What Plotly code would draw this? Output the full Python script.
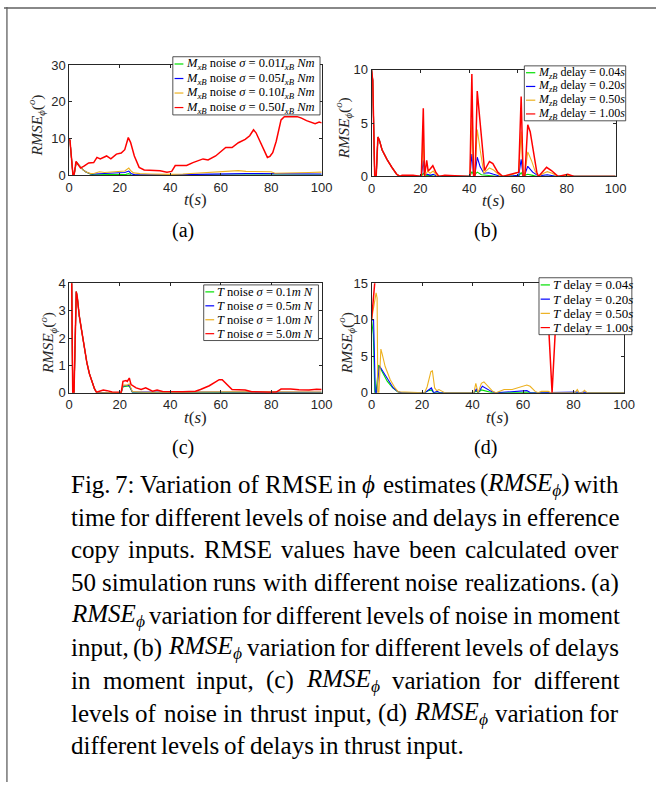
import re
import plotly.graph_objects as go

W, H = 667, 790

GREEN, BLUE, ORANGE, RED = "#00e000", "#0000ff", "#edb120", "#ff0000"

# ---------------------------------------------------------------- data
# (t [s], RMSE_phi [deg]) samples for each curve

# (a) noise on the moment input
a_green = [(0, 10), (0.3, 9.5), (1.5, 0), (2, 0.4), (2.8, 3.6), (3.5, 3.0), (4.5, 2.2), (5.5, 1.5),
           (6.5, 1.0), (7.5, 0.6), (8.5, 0.3), (10, 0.15), (15, 0.15), (20, 0.2), (22.5, 0.3),
           (23.6, 0.5), (24.5, 0.1), (30, 0.05), (40, 0.05), (50, 0.1), (60, 0.1), (70, 0.1),
           (80, 0.1), (90, 0.1), (100, 0.1)]
a_blue = [(0, 10), (0.3, 9.5), (1.5, 0), (2, 0.4), (2.8, 3.6), (3.5, 3.0), (4.5, 2.2), (5.5, 1.5),
          (6.5, 1.0), (7.5, 0.7), (8.5, 0.4), (10, 0.4), (12, 0.5), (16, 0.6), (20, 0.7), (22, 0.8),
          (23.6, 1.2), (24.5, 0.5), (26, 0.15), (35, 0.1), (40, 0.1), (45, 0.2), (50, 0.3),
          (55, 0.4), (60, 0.5), (65, 0.5), (70, 0.5), (75, 0.5), (80, 0.5), (85, 0.4), (90, 0.4),
          (100, 0.4)]
a_orange = [(0, 10), (0.3, 9.5), (1.5, 0), (2, 0.4), (2.8, 3.6), (3.5, 3.0), (4.5, 2.2), (5.5, 1.5),
            (6.5, 1.0), (7.5, 0.7), (8.5, 0.5), (10, 0.6), (12, 1.0), (14, 0.8), (16, 0.9),
            (18, 1.0), (20, 0.9), (22, 1.2), (23.6, 2.0), (24.5, 1.2), (25.5, 0.7), (28, 0.5),
            (32, 0.4), (36, 0.3), (40, 0.3), (45, 0.4), (50, 0.6), (55, 0.8), (60, 0.9), (64, 1.1),
            (67, 1.3), (70, 1.1), (75, 1.0), (80, 1.0), (81.5, 0.6), (85, 0.6), (90, 0.7), (95, 0.8),
            (100, 0.9)]
a_red = [(0, 10), (0.3, 9.5), (1.5, 0), (2, 0.4), (2.7, 3.8), (3.3, 3.2), (4.5, 2.0), (6, 2.6),
         (7.7, 3.4), (9.7, 3.5), (11, 4.9), (12.3, 4.5), (13.5, 4.8), (14.8, 5.3), (16.5, 4.5),
         (18.7, 5.8), (20.6, 6.1), (22, 7.0), (23.4, 10.3), (24.3, 9.0), (25.8, 5.3), (27.7, 2.2),
         (29.7, 1.5), (33, 1.4), (36, 1.3), (38.7, 0.9), (40.6, 1.1), (42, 2.7), (46.5, 2.7),
         (49, 3.5), (53, 4.5), (55, 4.2), (58, 5.3), (62, 7.6), (64.5, 7.6), (67, 8.9), (69.7, 9.8),
         (71.5, 10.8), (73, 12.4), (74, 11.6), (76, 8.5), (78.5, 4.9), (79.5, 5.2), (80.6, 6.2),
         (82, 9.3), (83.9, 15.1), (85.2, 16.0), (88, 16.0), (90.3, 16.0), (92, 15.6), (94, 14.9),
         (97.4, 14.1), (99, 14.5), (100, 14.3)]

# (b) delay on the moment input
b_green = [(0, 10), (0.5, 9), (1.3, 0), (1.9, 0), (2.6, 3.7), (3.2, 3.4), (4.3, 2.5), (6.3, 1.6),
           (8.3, 0.86), (10.3, 0.2), (11.6, 0), (20.4, 0), (21.2, 0.3), (22, 0.05), (24, 0.1),
           (26, 0), (40.3, 0), (41.1, 0.45), (42, 0.1), (43.3, 0.4), (45, 0.15), (48, 0.1), (52, 0),
           (60.3, 0.05), (61.3, 0.35), (62.1, 0.05), (64, 0.2), (66, 0.1), (68, 0), (100, 0)]
b_blue = [(0, 10), (0.5, 9), (1.3, 0), (1.9, 0), (2.6, 3.7), (3.2, 3.4), (4.3, 2.5), (6.3, 1.6),
          (8.3, 0.86), (10.3, 0.2), (11.6, 0), (20.4, 0), (21.2, 1.5), (21.7, 0.1), (23, 0.2),
          (24, 0.1), (25.3, 0.2), (27, 0), (40.3, 0), (41.1, 2.1), (41.8, 0.2), (42.4, 0.2),
          (43.3, 1.8), (44.5, 0.9), (46, 0.3), (48, 0.35), (50, 0.2), (53, 0), (58, 0.05),
          (60.3, 0.1), (61.3, 1.6), (62.1, 0.1), (62.8, 0.2), (64, 0.95), (66, 0.4), (68.4, 0.05),
          (72, 0.15), (76, 0), (100, 0)]
b_orange = [(0, 10), (0.5, 9), (1.3, 0), (1.9, 0), (2.6, 3.7), (3.2, 3.4), (4.3, 2.5), (6.3, 1.6),
            (8.3, 0.86), (10.3, 0.2), (11.6, 0), (12, 0.05), (20.4, 0), (21.2, 3.7), (21.7, 0),
            (23, 0.5), (24, 0.3), (25.3, 0.5), (27, 0), (40.3, 0), (41.1, 5.3), (41.8, 0.2),
            (42.4, 0.3), (43.3, 4.4), (44.5, 2.5), (46, 0.3), (48.3, 0.8), (50, 0.6), (53, 0),
            (58, 0.2), (60.3, 0.4), (61.3, 4.2), (62.1, 0.1), (62.8, 0.2), (64, 2.3), (65.5, 1.5),
            (67, 0.5), (68.4, 0), (70.5, 0.3), (72, 0.45), (74, 0.3), (76.4, 0), (80.4, 0.1),
            (83, 0), (100, 0)]
b_red = [(0, 10), (0.5, 9), (1.3, 0), (1.9, 0), (2.6, 3.7), (3.2, 3.4), (4.3, 2.5), (6.3, 1.6),
         (8.3, 0.86), (10.3, 0.2), (11.6, 0), (12.5, 0.1), (17, 0.1), (19.6, 0), (20.4, 0),
         (21.2, 6.4), (21.7, 0), (22.6, 1.5), (23.2, 0.5), (24, 0.7), (25.1, 1.0), (26.3, 0.4),
         (27.6, 0), (30, 0.1), (33, 0.05), (36, 0.05), (39.7, 0), (40.3, 0), (41.1, 9.6),
         (41.8, 0), (42.4, 0), (43.3, 8.0), (44.3, 5.5), (45.4, 2.4), (46.3, 0.55), (47, 0.86),
         (48.3, 1.4), (49.7, 1.2), (51.7, 0.4), (53.7, 0), (57.7, 0.25), (60.3, 0.4), (61.3, 7.5),
         (62.1, 0), (62.8, 0), (64, 4.85), (65, 4.2), (66.4, 2.1), (67.7, 0.4), (68.4, 0),
         (70.4, 0.55), (71.7, 0.86), (73.7, 0.55), (76.4, 0), (80.4, 0.2), (83, 0), (100, 0)]

# (c) noise on the thrust input
c_green = [(0, 10), (0.5, 9), (1.4, 0), (1.9, 0), (2.8, 3.7), (3.2, 3.5), (4, 2.8), (5, 2.2),
           (6, 1.6), (7, 1.1), (8, 0.7), (9, 0.4), (10, 0.15), (10.8, 0.02), (12, 0.01),
           (20.6, 0.01), (21.3, 0.22), (23.8, 0.25), (25, 0.02), (100, 0.01)]
c_blue = [(0, 10), (0.5, 9), (1.4, 0), (1.9, 0), (2.8, 3.7), (3.2, 3.5), (4, 2.8), (5, 2.2),
          (6, 1.6), (7, 1.1), (8, 0.7), (9, 0.4), (10, 0.15), (10.8, 0.02), (12, 0.01),
          (20.6, 0.01), (21.3, 0.25), (23.8, 0.28), (25, 0.03), (60, 0.03), (100, 0.02)]
c_orange = [(0, 10), (0.5, 9), (1.4, 0), (1.9, 0), (2.8, 3.7), (3.2, 3.5), (4, 2.8), (5, 2.2),
            (6, 1.6), (7, 1.1), (8, 0.7), (9, 0.4), (10, 0.15), (10.8, 0.02), (12, 0.02),
            (20.6, 0.01), (21.3, 0.28), (23, 0.28), (23.8, 0.33), (25, 0.05), (30, 0.02),
            (60, 0.05), (62, 0.04), (100, 0.03)]
c_red = [(0, 10), (0.5, 9), (1.4, 0), (1.9, 0), (2.8, 3.7), (3.2, 3.5), (4, 2.8), (5, 2.2),
         (6, 1.6), (7, 1.1), (8, 0.7), (9, 0.4), (10, 0.15), (10.8, 0.02), (12, 0.05),
         (13.5, 0.1), (15, 0.08), (17, 0.03), (20.6, 0.02), (21.3, 0.42), (22.5, 0.45), (23, 0.42),
         (23.8, 0.54), (24.5, 0.3), (26.5, 0.18), (28.5, 0.12), (30.3, 0.18), (33, 0.06),
         (34.8, 0.1), (37, 0.05), (45, 0.04), (50, 0.06), (52, 0.12), (55.5, 0.26), (58, 0.4),
         (59.4, 0.48), (60.6, 0.48), (62.6, 0.3), (64.5, 0.12), (69.7, 0.1), (72.3, 0.04),
         (80, 0.02), (82, 0.03), (83.9, 0.14), (87.7, 0.14), (91, 0.11), (95, 0.1), (98, 0.13),
         (100, 0.12)]

# (d) delay on the thrust input
d_green = [(0, 10), (0.7, 8), (1.3, 0), (1.8, 0), (2.8, 3.8), (4.2, 2.8), (6.2, 1.6), (8.3, 0.7),
           (10.5, 0.1), (12, 0), (21, 0), (22.5, 0.3), (23.7, 0.4), (24.6, 0), (40.5, 0),
           (41.5, 0.25), (42.2, 0), (43.5, 0.4), (45.5, 0.2), (48, 0), (60, 0.05), (61.5, 0.1),
           (63, 0), (100, 0)]
d_blue = [(0, 10), (0.8, 10), (1.5, 0), (2.0, 0), (3.1, 3.7), (4.8, 2.7), (6.7, 1.6), (8.6, 0.67),
          (10.6, 0.13), (12, 0), (21, 0), (22.5, 0.4), (23.7, 0.67), (24.6, 0), (26, 0.2), (27, 0),
          (40.5, 0), (41.5, 0.5), (42.2, 0), (43.9, 0.9), (45.4, 0.58), (47.4, 0.2), (49, 0),
          (53, 0.1), (56, 0.2), (61.5, 0.3), (62.8, 0.05), (65, 0), (81.5, 0.1), (82.2, 0),
          (84.3, 0.1), (85.5, 0), (100, 0)]
d_orange = [(0, 10), (0.9, 12), (1.8, 13.7), (2.2, 13), (2.5, 0), (2.9, 0), (3.7, 6.0), (4.3, 5.2),
            (5.4, 3.6), (7.4, 1.8), (9.3, 0.67), (10.6, 0.13), (15, 0.1), (20, 0.1), (21, 0),
            (22, 0.8), (23.5, 2.9), (24.1, 3.0), (25, 0.67), (25.8, 0.3), (26.7, 0.45), (28, 0.2),
            (29, 0), (40.5, 0), (41.3, 1.3), (42.2, 0), (43.5, 1.3), (44.5, 1.5), (46, 0.9),
            (48, 0.2), (49.3, 0), (52.5, 0.45), (55.7, 0.45), (59.6, 0.9), (61.5, 1.07),
            (62.8, 0.9), (64.8, 0.2), (66, 0), (67.3, 0.2), (70, 0.2), (71, 0), (80.5, 0),
            (81.5, 0.45), (82.2, 0), (83.5, 0), (84.3, 0.35), (85.5, 0), (100, 0)]
d_red = [(0, 10), (1.2, 15), (2.5, 20), (30, 25), (68.5, 20), (71.5, 0), (74.5, 20), (100, 25)]

# tick values and series labels
x_ticks = [0, 20, 40, 60, 80, 100]
a_yticks = [0, 10, 20, 30]
b_yticks = [0, 5, 10]
c_yticks = [0, 1, 2, 3, 4]
d_yticks = [0, 5, 10, 15]

EQ = "\u2005=\u2005"  # math-style spacing around the equals sign
a_labels = [f"<i>M</i><sub><i>xB</i></sub> noise <i>σ</i>{EQ}0.{v}<i>I</i><sub><i>xB</i></sub> <i>Nm</i>"
            for v in ("01", "05", "10", "50")]
b_labels = [f"<i>M</i><sub><i>zB</i></sub> delay{EQ}{v}<i>s</i>"
            for v in ("0.04", "0.20", "0.50", "1.00")]
c_labels = [f"<i>T</i> noise <i>σ</i>{EQ}{v}<i>m N</i>"
            for v in ("0.1", "0.5", "1.0", "5.0")]
d_labels = [f"<i>T</i> delay{EQ}{v}<i>s</i>"
            for v in ("0.04", "0.20", "0.50", "1.00")]

CAPTION = [
    "Fig. 7: Variation of RMSE in {phi} estimates ({R}) with",
    "time for different levels of noise and delays in efference",
    "copy inputs. RMSE values have been calculated over",
    "50 simulation runs with different noise realizations. (a)",
    "{R} variation for different levels of noise in moment",
    "input, (b) {R} variation for different levels of delays",
    "in moment input, (c) {R} variation for different",
    "levels of noise in thrust input, (d) {R} variation for",
    "different levels of delays in thrust input.",
]

# ---------------------------------------------------------------- layout (pixels)
COLORS = [GREEN, BLUE, ORANGE, RED]
WIDTHS = [1.1, 1.1, 1.1, 1.5]
PANELS = [
    dict(series=[a_green, a_blue, a_orange, a_red], yticks=a_yticks, labels=a_labels, tag="(a)",
         box=(66.7, 59.3, 325.0, 171.7), ylab_x=33, tag_xy=(183, 228),
         leg=dict(box=(172.7, 50.7, 323.3, 110.0), row0=58.1, step=14.8, lx=(174.5, 183.5),
                  tx=184.5, fs=12.5)),
    dict(series=[b_green, b_blue, b_orange, b_red], yticks=b_yticks, labels=b_labels, tag="(b)",
         box=(376.0, 64.0, 625.7, 172.7), ylab_x=347, tag_xy=(493, 228),
         leg=dict(box=(532.3, 60.0, 636.0, 116.0), row0=67.0, step=14.0, lx=(534.0, 543.5),
                  tx=544.5, fs=12)),
    dict(series=[c_green, c_blue, c_orange, c_red], yticks=c_yticks, labels=c_labels, tag="(c)",
         box=(66.7, 281.7, 325.0, 393.3), ylab_x=45, tag_xy=(183, 449),
         leg=dict(box=(204.3, 283.3, 321.7, 340.0), row0=290.4, step=14.2, lx=(206.0, 215.0),
                  tx=216.0, fs=12.5)),
    dict(series=[d_green, d_blue, d_orange, d_red], yticks=d_yticks, labels=d_labels, tag="(d)",
         box=(376.0, 281.7, 634.3, 393.3), ylab_x=350, tag_xy=(493, 449),
         leg=dict(box=(547.3, 276.0, 642.3, 334.0), row0=283.3, step=14.5, lx=(549.0, 558.5),
                  tx=559.5, fs=13)),
]

AX_COL = "#262626"
SERIF = "Liberation Serif, Times New Roman, serif"
SANS = "Liberation Sans, Arial, sans-serif"


def px(x):
    return x / W


def py(y):
    return 1 - y / H


fig = go.Figure()
shapes, annotations = [], []

for i, p in enumerate(PANELS, start=1):
    sfx = "" if i == 1 else str(i)
    x0, y0, x1, y1 = p["box"]
    for data, col, lw in zip(p["series"], COLORS, WIDTHS):
        t, v = zip(*data)
        fig.add_trace(go.Scatter(x=t, y=v, mode="lines", line=dict(color=col, width=lw),
                                 xaxis="x" + sfx, yaxis="y" + sfx, showlegend=False,
                                 hoverinfo="skip"))
    common = dict(ticks="inside", ticklen=3, tickwidth=0.8, tickcolor=AX_COL, showline=True,
                  linecolor=AX_COL, linewidth=0.8, mirror="ticks", showgrid=False, zeroline=False,
                  tickfont=dict(family=SANS, size=13, color=AX_COL), fixedrange=True)
    fig.layout["xaxis" + sfx] = dict(domain=[px(x0), px(x1)], anchor="y" + sfx, range=[0, 100],
                                     tickmode="array", tickvals=x_ticks, **common)
    yt = p["yticks"]
    fig.layout["yaxis" + sfx] = dict(domain=[py(y1), py(y0)], anchor="x" + sfx,
                                     range=[0, yt[-1]], tickmode="array", tickvals=yt, **common)

    # axis titles
    annotations.append(dict(x=px((x0 + x1) / 2), y=py(y1 + 25), text="<i>t</i>(<i>s</i>)",
                            font=dict(family=SERIF, size=17, color=AX_COL)))
    annotations.append(dict(x=px(p["ylab_x"]), y=py((y0 + y1) / 2 + 5), textangle=-90,
                            text="<i>RMSE</i><sub><i>ϕ</i></sub>(<sup><i>o</i></sup>)",
                            font=dict(family=SERIF, size=15.5, color=AX_COL)))
    # sub-figure tag
    annotations.append(dict(x=px(p["tag_xy"][0]), y=py(p["tag_xy"][1]), text=p["tag"],
                            font=dict(family=SERIF, size=20, color="black")))

    # legend box
    lg = p["leg"]
    bx0, by0, bx1, by1 = lg["box"]
    shapes.append(dict(type="rect", xref="paper", yref="paper", x0=px(bx0), x1=px(bx1),
                       y0=py(by1), y1=py(by0), fillcolor="white",
                       line=dict(color=AX_COL, width=0.8), layer="above"))
    for k, (lab, col) in enumerate(zip(p["labels"], COLORS)):
        yy = lg["row0"] + k * lg["step"]
        shapes.append(dict(type="line", xref="paper", yref="paper", x0=px(lg["lx"][0]),
                           x1=px(lg["lx"][1]), y0=py(yy), y1=py(yy),
                           line=dict(color=col, width=1.2), layer="above"))
        annotations.append(dict(x=px(lg["tx"]), y=py(yy), text=lab, xanchor="left",
                                font=dict(family=SERIF, size=lg["fs"], color="black")))

# ---------------------------------------------------------------- caption (justified)
FS = 25
ROMAN = {" ": 250, "(": 333, ")": 333, ",": 250, ".": 250, ":": 278,
         "A": 722, "B": 667, "C": 667, "D": 722, "E": 611, "F": 556, "G": 722, "H": 722,
         "I": 333, "J": 389, "K": 722, "L": 611, "M": 889, "N": 722, "O": 722, "P": 556,
         "Q": 722, "R": 667, "S": 556, "T": 611, "U": 722, "V": 722, "W": 944, "X": 722,
         "Y": 722, "Z": 611,
         "a": 444, "b": 500, "c": 444, "d": 500, "e": 444, "f": 333, "g": 500, "h": 500,
         "i": 278, "j": 278, "k": 500, "l": 278, "m": 778, "n": 500, "o": 500, "p": 500,
         "q": 500, "r": 333, "s": 389, "t": 278, "u": 500, "v": 500, "w": 722, "x": 500,
         "y": 500, "z": 444}
ITALIC = {"R": 611, "M": 833, "S": 500, "E": 611, "ϕ": 596}


def measure(word):
    html, units = "", 0.0
    for part in re.split(r"(\{R\}|\{phi\})", word):
        if part == "{R}":
            html += "<i>RMSE</i><sub><i>ϕ</i></sub>"
            units += sum(ITALIC[c] for c in "RMSE") + 0.7 * ITALIC["ϕ"]
        elif part == "{phi}":
            html += "<i>ϕ</i>"
            units += ITALIC["ϕ"]
        else:
            html += part
            units += sum(ROMAN.get(c, 500) for c in part)
    return html, units * FS / 1000.0


CAP_LEFT, CAP_RIGHT, CAP_TOP, CAP_STEP = 66.0, 626.0, 487.0, 33.25
for li, line in enumerate(CAPTION):
    words = [measure(w) for w in line.split(" ")]
    total = sum(w for _, w in words)
    last = li == len(CAPTION) - 1
    gap = ROMAN[" "] * FS / 1000.0 if last else (CAP_RIGHT - CAP_LEFT - total) / (len(words) - 1)
    xc = CAP_LEFT
    for html, wid in words:
        annotations.append(dict(x=px(xc), y=py(CAP_TOP + li * CAP_STEP), text=html,
                                xanchor="left", font=dict(family=SERIF, size=FS, color="black")))
        xc += wid + gap

# frame lines (left and top)
shapes.append(dict(type="line", xref="paper", yref="paper", x0=px(3), x1=px(3), y0=0, y1=1,
                   line=dict(color="#606060", width=1.3)))
shapes.append(dict(type="line", xref="paper", yref="paper", x0=0, x1=1, y0=py(1), y1=py(1),
                   line=dict(color="#606060", width=1.3)))

for a in annotations:
    a.setdefault("xref", "paper")
    a.setdefault("yref", "paper")
    a.setdefault("showarrow", False)
    a.setdefault("xanchor", "center")
    a.setdefault("yanchor", "middle")

fig.update_layout(width=W, height=H, margin=dict(l=0, r=0, t=0, b=0), autosize=False,
                  paper_bgcolor="white", plot_bgcolor="white", showlegend=False,
                  shapes=shapes, annotations=annotations)

fig.write_html("out.html", config={"displayModeBar": False})
